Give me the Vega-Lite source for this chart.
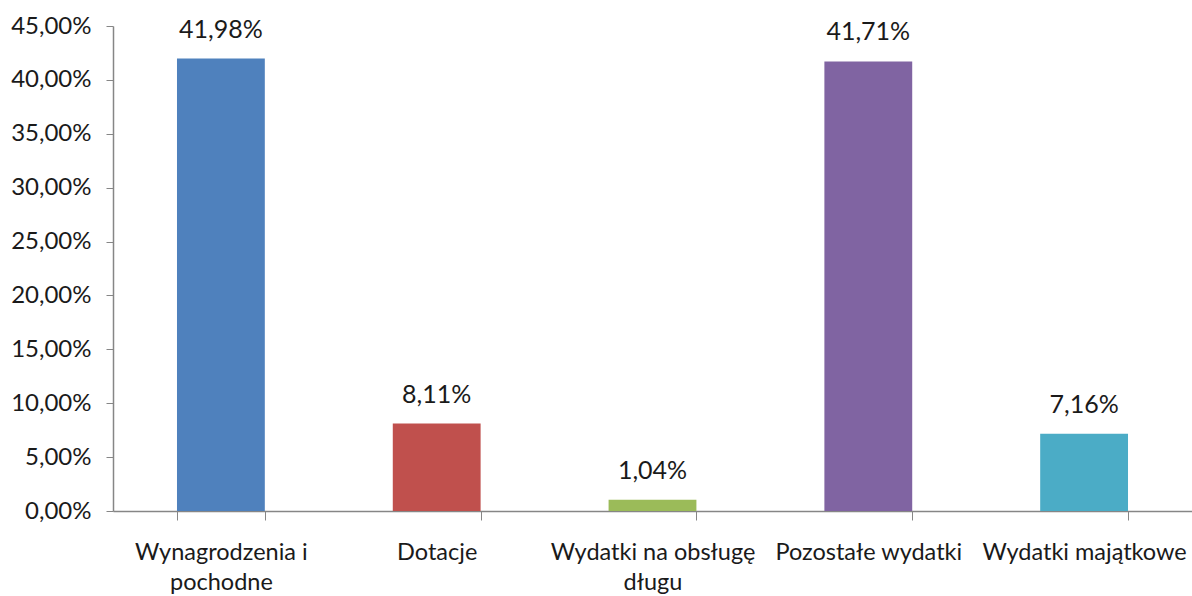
{
  "$schema": "https://vega.github.io/schema/vega-lite/v6.json",
  "width": 1079,
  "height": 485,
  "autosize": {"type": "none"},
  "padding": {"left": 113, "top": 26, "right": 0, "bottom": 85},
  "background": "white",
  "config": {
    "locale": {"number": {"decimal": ",", "thousands": " ", "grouping": [3], "currency": ["", " zł"]}},
    "view": {"stroke": null},
    "font": "Lato"
  },
  "data": {
    "values": [
      {"kategoria": "Wynagrodzenia i|pochodne", "udzial": 0.4198},
      {"kategoria": "Dotacje", "udzial": 0.0811},
      {"kategoria": "Wydatki na obsługę|długu", "udzial": 0.0104},
      {"kategoria": "Pozostałe wydatki", "udzial": 0.4171},
      {"kategoria": "Wydatki majątkowe", "udzial": 0.0716}
    ]
  },
  "encoding": {
    "x": {
      "field": "kategoria",
      "type": "nominal",
      "sort": null,
      "scale": {"paddingInner": 0.593, "paddingOuter": 0.2965},
      "axis": {
        "title": null,
        "labelAngle": 0,
        "labelExpr": "split(datum.label, '|')",
        "labelFont": "Lato",
        "labelFontSize": 23.5,
        "labelColor": "#1a1a1a",
        "labelLineHeight": 30,
        "labelPadding": 20,
        "labelBaseline": "top",
        "labelLimit": 0,
        "tickBand": "extent",
        "tickSize": 9,
        "tickColor": "#868686",
        "domainColor": "#868686",
        "domainWidth": 1.5,
        "grid": false
      }
    },
    "y": {
      "field": "udzial",
      "type": "quantitative",
      "scale": {"domain": [0, 0.45], "nice": false},
      "axis": {
        "title": null,
        "format": ".2%",
        "values": [0, 0.05, 0.1, 0.15, 0.2, 0.25, 0.3, 0.35, 0.4, 0.45],
        "labelFont": "Lato",
        "labelFontSize": 24,
        "labelColor": "#1a1a1a",
        "labelPadding": 15,
        "tickSize": 7,
        "tickColor": "#868686",
        "domainColor": "#868686",
        "domainWidth": 1.5,
        "grid": false
      }
    }
  },
  "layer": [
    {
      "mark": {"type": "bar"},
      "encoding": {
        "color": {
          "field": "kategoria",
          "type": "nominal",
          "sort": null,
          "scale": {"range": ["#4F81BD", "#C0504D", "#9BBB59", "#8064A2", "#4BACC6"]},
          "legend": null
        }
      }
    },
    {
      "mark": {"type": "text", "baseline": "alphabetic", "dy": -21, "fontSize": 25, "font": "Lato", "color": "#1a1a1a"},
      "encoding": {
        "text": {"field": "udzial", "type": "quantitative", "format": ".2%"}
      }
    }
  ]
}
